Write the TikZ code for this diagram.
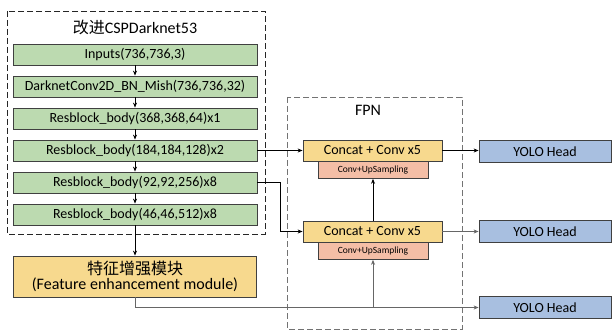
\documentclass[tikz,border=0pt]{standalone}
\usepackage{fontspec}
\setmainfont{Carlito}
\newfontfamily\cjk{Noto Sans CJK SC}
\usetikzlibrary{arrows.meta}
\definecolor{boxgreen}{HTML}{BCDAB0}
\definecolor{boxgold}{HTML}{F7D98E}
\definecolor{boxpink}{HTML}{F4BEA6}
\definecolor{boxblue}{HTML}{A8BFE0}
\definecolor{edge}{HTML}{404040}
\tikzset{
  x=1pt, y=-1pt,
  base/.style={draw=edge, line width=0.8pt, inner sep=0pt, align=center},
  greenbox/.style={base, fill=boxgreen, minimum width=244pt, minimum height=21pt, font=\fontsize{14}{16}\selectfont},
  goldbox/.style={base, fill=boxgold, minimum width=139pt, minimum height=21pt, font=\fontsize{14}{16}\selectfont},
  pinkbox/.style={base, fill=boxpink, minimum width=110pt, minimum height=17pt, font=\fontsize{9.5}{11}\selectfont},
  headbox/.style={base, fill=boxblue, minimum width=132pt, minimum height=22pt, font=\fontsize{14}{16}\selectfont},
  group/.style={dash pattern=on 6pt off 3pt, line width=0.8pt},
  link/.style={line width=0.8pt, -{Stealth[length=5pt,width=4pt]}}
}
\begin{document}
\begin{tikzpicture}
\useasboundingbox[fill=white] (0,0) rectangle (612,331);

% backbone group
\draw[group, draw=black!85] (7,11) rectangle (265,234);
\node[font=\fontsize{16}{18}\selectfont] (title) at (135,27) {{\cjk 改进}CSPDarknet53};

\node[greenbox] (in)  at (135,54.5)  {Inputs(736,736,3)};
\node[greenbox] (dk)  at (135,86.5)  {DarknetConv2D\_BN\_Mish(736,736,32)};
\node[greenbox] (r1)  at (135,118.5) {Resblock\_body(368,368,64)x1};
\node[greenbox] (r2)  at (135,150.5) {Resblock\_body(184,184,128)x2};
\node[greenbox] (r3)  at (135,182.5) {Resblock\_body(92,92,256)x8};
\node[greenbox] (r4)  at (135,214.5) {Resblock\_body(46,46,512)x8};

% feature enhancement module
\node[base, fill=boxgold, minimum width=243pt, minimum height=41pt] (fem) at (135,276.5)
  {{\cjk\fontsize{16}{18}\selectfont 特征增强模块}\\[1.5pt]{\fontsize{16}{18}\selectfont (Feature enhancement module)}};

% FPN group
\draw[group, draw=black!55] (287,97) rectangle (462,329);
\node[font=\fontsize{16}{18}\selectfont] (fpn) at (368,110) {FPN};

\node[goldbox] (c1) at (372.5,150.5) {Concat + Conv x5};
\node[pinkbox, anchor=north] (u1) at (373,161) {Conv+UpSampling};
\node[goldbox] (c2) at (372.5,231.5) {Concat + Conv x5};
\node[pinkbox, anchor=north] (u2) at (373,242) {Conv+UpSampling};

% heads
\node[headbox] (h1) at (545,151.5) {YOLO Head};
\node[headbox] (h2) at (545,231.5) {YOLO Head};
\node[headbox] (h3) at (545,307.5) {YOLO Head};

% backbone chain
\draw[link] (in) -- (dk);
\draw[link] (dk) -- (r1);
\draw[link] (r1) -- (r2);
\draw[link] (r2) -- (r3);
\draw[link] (r3) -- (r4);
\draw[link] (r4) -- (fem);

% lateral connections into FPN
\draw[link] (r2.east) -- (r2.east -| c1.west);
\coordinate (bend) at (280,182.5);
\draw[link] (r3.east) -- (bend) |- (c2.west);

% bottom path from the enhancement module
\coordinate (low) at (135,307.5);
\coordinate (tap) at (373,307.5);
\draw[link, draw=black!60] (fem.south) -- (low) -- (h3.west);
\draw[link, draw=black!60] (tap) -- (u2.south);

% upward path between FPN stages
\draw[link] (c2.north -| u1.south) -- (u1.south);

% outputs
\draw[link] (c1.east) -- (c1.east -| h1.west);
\draw[link, draw=black!60] (c2.east) -- (h2.west);
\end{tikzpicture}
\end{document}
